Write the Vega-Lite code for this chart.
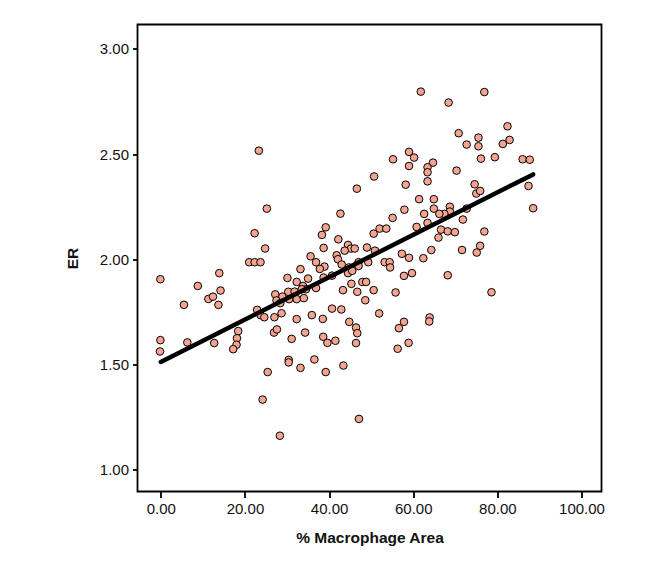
{
  "$schema": "https://vega.github.io/schema/vega-lite/v6.json",
  "autosize": "none",
  "padding": {"left": 137.5, "top": 24.5, "right": 50.5, "bottom": 72.5},
  "width": 464,
  "height": 467,
  "background": "white",
  "config": {
    "font": "Liberation Sans",
    "view": {"stroke": "black", "strokeWidth": 1.8},
    "axis": {
      "labelFont": "Liberation Sans",
      "titleFont": "Liberation Sans",
      "labelColor": "#111",
      "titleColor": "#111",
      "labelFontSize": 15,
      "titleFontSize": 15.5,
      "titleFontWeight": "bold",
      "tickColor": "black",
      "tickWidth": 1.8,
      "tickSize": 6,
      "domain": false,
      "grid": false
    }
  },
  "layer": [
    {
      "data": {"values": [
        {"area": 61.8, "er": 2.797}, {"area": 76.9, "er": 2.795}, {"area": 68.4, "er": 2.745}, {"area": 82.4, "er": 2.632},
        {"area": 70.8, "er": 2.599}, {"area": 75.5, "er": 2.578}, {"area": 82.9, "er": 2.567}, {"area": 72.7, "er": 2.545},
        {"area": 81.3, "er": 2.548}, {"area": 75.5, "er": 2.537}, {"area": 23.3, "er": 2.516}, {"area": 59.0, "er": 2.510},
        {"area": 60.2, "er": 2.483}, {"area": 79.4, "er": 2.485}, {"area": 76.1, "er": 2.478}, {"area": 55.2, "er": 2.475},
        {"area": 86.0, "er": 2.475}, {"area": 87.7, "er": 2.473}, {"area": 64.7, "er": 2.459}, {"area": 63.4, "er": 2.437},
        {"area": 59.0, "er": 2.443}, {"area": 63.4, "er": 2.413}, {"area": 70.3, "er": 2.421}, {"area": 50.7, "er": 2.393},
        {"area": 63.4, "er": 2.370}, {"area": 74.6, "er": 2.356}, {"area": 58.2, "er": 2.354}, {"area": 87.4, "er": 2.348},
        {"area": 46.6, "er": 2.335}, {"area": 75.0, "er": 2.312}, {"area": 75.9, "er": 2.324}, {"area": 61.4, "er": 2.285},
        {"area": 64.9, "er": 2.285}, {"area": 25.2, "er": 2.240}, {"area": 88.5, "er": 2.242}, {"area": 64.9, "er": 2.240},
        {"area": 57.9, "er": 2.235}, {"area": 42.7, "er": 2.216}, {"area": 72.7, "er": 2.240}, {"area": 68.7, "er": 2.249},
        {"area": 68.7, "er": 2.226}, {"area": 67.4, "er": 2.215}, {"area": 66.2, "er": 2.215}, {"area": 62.6, "er": 2.215},
        {"area": 55.1, "er": 2.196}, {"area": 71.8, "er": 2.188}, {"area": 63.4, "er": 2.172}, {"area": 39.2, "er": 2.151},
        {"area": 52.0, "er": 2.145}, {"area": 53.6, "er": 2.145}, {"area": 60.8, "er": 2.153}, {"area": 66.6, "er": 2.140},
        {"area": 68.2, "er": 2.132}, {"area": 69.9, "er": 2.128}, {"area": 76.9, "er": 2.131}, {"area": 22.3, "er": 2.123},
        {"area": 38.3, "er": 2.115}, {"area": 50.6, "er": 2.121}, {"area": 42.2, "er": 2.094}, {"area": 66.0, "er": 2.102},
        {"area": 44.5, "er": 2.067}, {"area": 45.2, "er": 2.050}, {"area": 46.1, "er": 2.050}, {"area": 43.7, "er": 2.040},
        {"area": 38.7, "er": 2.053}, {"area": 24.8, "er": 2.050}, {"area": 49.0, "er": 2.055}, {"area": 50.9, "er": 2.040},
        {"area": 64.3, "er": 2.043}, {"area": 71.6, "er": 2.043}, {"area": 75.9, "er": 2.063}, {"area": 75.1, "er": 2.031},
        {"area": 41.8, "er": 2.018}, {"area": 42.1, "er": 1.999}, {"area": 35.6, "er": 2.013}, {"area": 57.3, "er": 2.025},
        {"area": 59.0, "er": 2.006}, {"area": 62.4, "er": 2.004}, {"area": 21.0, "er": 1.985}, {"area": 22.3, "er": 1.985},
        {"area": 23.7, "er": 1.985}, {"area": 36.9, "er": 1.985}, {"area": 38.9, "er": 1.964}, {"area": 37.8, "er": 1.953},
        {"area": 43.0, "er": 1.974}, {"area": 47.0, "er": 1.985}, {"area": 47.0, "er": 1.967}, {"area": 44.7, "er": 1.960},
        {"area": 49.3, "er": 1.985}, {"area": 53.2, "er": 1.985}, {"area": 54.4, "er": 1.985}, {"area": 54.5, "er": 1.960},
        {"area": -0.1, "er": 1.904}, {"area": 13.9, "er": 1.933}, {"area": 33.2, "er": 1.952}, {"area": 30.1, "er": 1.910},
        {"area": 38.7, "er": 1.912}, {"area": 40.7, "er": 1.921}, {"area": 44.5, "er": 1.933}, {"area": 45.5, "er": 1.944},
        {"area": 35.0, "er": 1.907}, {"area": 57.8, "er": 1.920}, {"area": 59.7, "er": 1.933}, {"area": 68.2, "er": 1.923},
        {"area": 8.8, "er": 1.872}, {"area": 14.2, "er": 1.850}, {"area": 32.3, "er": 1.891}, {"area": 33.8, "er": 1.872},
        {"area": 34.5, "er": 1.856}, {"area": 33.5, "er": 1.856}, {"area": 36.9, "er": 1.862}, {"area": 47.9, "er": 1.891},
        {"area": 48.8, "er": 1.891}, {"area": 45.3, "er": 1.882}, {"area": 43.3, "er": 1.852}, {"area": 50.6, "er": 1.852},
        {"area": 46.7, "er": 1.844}, {"area": 55.8, "er": 1.841}, {"area": 78.6, "er": 1.842}, {"area": 27.2, "er": 1.832},
        {"area": 28.9, "er": 1.821}, {"area": 30.3, "er": 1.844}, {"area": 31.8, "er": 1.845}, {"area": 30.5, "er": 1.809},
        {"area": 32.3, "er": 1.809}, {"area": 34.0, "er": 1.814}, {"area": 27.5, "er": 1.803}, {"area": 28.4, "er": 1.790},
        {"area": 11.3, "er": 1.810}, {"area": 12.4, "er": 1.821}, {"area": 13.7, "er": 1.782}, {"area": 5.5, "er": 1.782},
        {"area": 48.6, "er": 1.804}, {"area": 22.9, "er": 1.758}, {"area": 23.7, "er": 1.733}, {"area": 24.6, "er": 1.723},
        {"area": 27.0, "er": 1.723}, {"area": 28.7, "er": 1.742}, {"area": 40.7, "er": 1.764}, {"area": 42.9, "er": 1.760},
        {"area": 51.9, "er": 1.741}, {"area": 35.9, "er": 1.733}, {"area": 38.5, "er": 1.715}, {"area": 32.3, "er": 1.714},
        {"area": 44.8, "er": 1.701}, {"area": 46.4, "er": 1.674}, {"area": 46.7, "er": 1.647}, {"area": 46.4, "er": 1.600},
        {"area": 57.8, "er": 1.701}, {"area": 56.6, "er": 1.671}, {"area": 63.9, "er": 1.722}, {"area": 63.8, "er": 1.703},
        {"area": 26.9, "er": 1.650}, {"area": 27.6, "er": 1.665}, {"area": 18.4, "er": 1.657}, {"area": 18.1, "er": 1.623},
        {"area": 18.0, "er": 1.592}, {"area": 17.2, "er": 1.571}, {"area": -0.1, "er": 1.614}, {"area": -0.2, "er": 1.560},
        {"area": 6.3, "er": 1.603}, {"area": 12.7, "er": 1.600}, {"area": 31.1, "er": 1.620}, {"area": 34.3, "er": 1.650},
        {"area": 38.6, "er": 1.630}, {"area": 39.6, "er": 1.601}, {"area": 41.5, "er": 1.611}, {"area": 58.9, "er": 1.601},
        {"area": 56.3, "er": 1.573}, {"area": 30.4, "er": 1.520}, {"area": 30.4, "er": 1.508}, {"area": 36.5, "er": 1.522},
        {"area": 33.2, "er": 1.482}, {"area": 43.4, "er": 1.493}, {"area": 25.4, "er": 1.462}, {"area": 39.2, "er": 1.462},
        {"area": 24.2, "er": 1.331}, {"area": 47.1, "er": 1.239}, {"area": 28.3, "er": 1.159}
      ]},
      "mark": {"type": "point", "shape": "circle", "filled": true, "fill": "#F5A48F", "stroke": "black", "strokeWidth": 1, "size": 58, "opacity": 1},
      "encoding": {
        "x": {"field": "area", "type": "quantitative",
          "scale": {"domain": [-5.54, 104.75], "nice": false, "zero": false},
          "axis": {"values": [0, 20, 40, 60, 80, 100], "format": ".2f", "title": "% Macrophage Area", "labelPadding": 4, "titlePadding": 14}},
        "y": {"field": "er", "type": "quantitative",
          "scale": {"domain": [0.8934, 3.1166], "nice": false, "zero": false},
          "axis": {"values": [1, 1.5, 2, 2.5, 3], "format": ".2f", "title": "ER", "labelPadding": 4, "titlePadding": 19, "tickSize": 5}}
      }
    },
    {
      "data": {"values": [{"area": 0, "er": 1.51}, {"area": 88.5, "er": 2.403}]},
      "mark": {"type": "line", "color": "black", "strokeWidth": 4.5, "strokeCap": "round"},
      "encoding": {
        "x": {"field": "area", "type": "quantitative"},
        "y": {"field": "er", "type": "quantitative"}
      }
    }
  ]
}
